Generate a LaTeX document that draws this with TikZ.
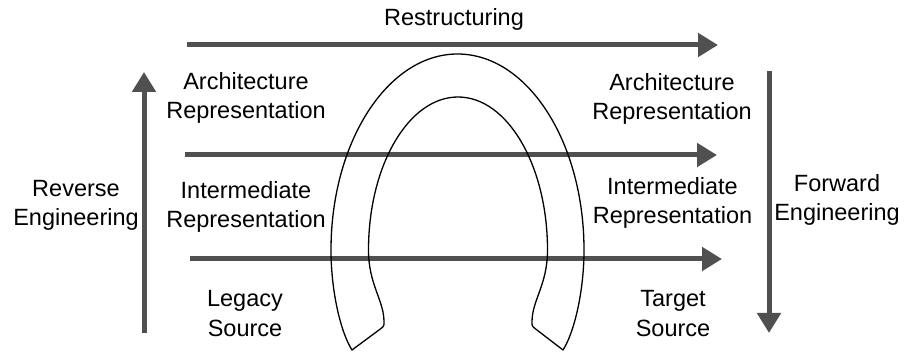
\documentclass[tikz,border=0pt]{standalone}
\usepackage{fontspec}
\setmainfont{Liberation Sans}
\usetikzlibrary{arrows.meta}
\definecolor{flowgray}{RGB}{80,80,80}
\begin{document}
\begin{tikzpicture}[x=1pt,y=-1pt,
  flow/.style={draw=flowgray,line width=5pt,
    -{Triangle[length=20pt,width=23pt]}},
  lbl/.style={inner sep=0pt,align=center,font=\fontsize{23.5}{29}\selectfont},
  shoe/.style={draw=black,line width=1.3pt,line join=round}]
\useasboundingbox (0,0) rectangle (904,352);

% end points of the flow arrows
\coordinate (rs) at (187,45);  \coordinate (re) at (718,45);
\coordinate (as) at (185,155); \coordinate (ae) at (717,155);
\coordinate (ls) at (190,259); \coordinate (le) at (722,259);
\coordinate (us) at (144,333); \coordinate (ue) at (144,72);
\coordinate (ds) at (769,71);  \coordinate (de) at (769,333);

% horizontal and vertical flows
\draw[flow] (rs) -- (re);
\draw[flow] (as) -- (ae);
\draw[flow] (ls) -- (le);
\draw[flow] (us) -- (ue);
\draw[flow] (ds) -- (de);

% horseshoe outline
\draw[shoe] (352,350) .. controls (341,333) and (331,292) .. (331,250)
  .. controls (331,141.75) and (387.9,54) .. (457.5,54)
  .. controls (527.4,54) and (584,141.75) .. (584,250)
  .. controls (584,292) and (574,333) .. (563,350)
  -- (535,328.5)
  .. controls (532,326) .. (532,322)
  .. controls (532,300) and (547.5,285) .. (547.5,250)
  .. controls (547.5,165.5) and (507.4,97) .. (458,97)
  .. controls (408.6,97) and (368.5,165.5) .. (368.5,250)
  .. controls (368.5,285) and (384,300) .. (384,322)
  .. controls (384,326) .. (381,328.5)
  -- cycle;

% labels
\node[lbl,anchor=base] (restr) at (454,26) {Restructuring};
\node[lbl] (archL) at (246,98.2) {\strut Architecture\\Representation\strut};
\node[lbl] (archR) at (672,99.7) {\strut Architecture\\Representation\strut};
\node[lbl] (interL) at (246,207.7) {\strut Intermediate\\Representation\strut};
\node[lbl] (interR) at (672.5,203.7) {\strut Intermediate\\Representation\strut};
\node[lbl] (legacy) at (245,315.7) {\strut Legacy\\Source\strut};
\node[lbl] (target) at (673,315.7) {\strut Target\\Source\strut};
\node[lbl] (rev) at (76,205.7) {\strut Reverse\\Engineering\strut};
\node[lbl] (fwd) at (837,200.7) {\strut Forward\\Engineering\strut};
\end{tikzpicture}
\end{document}
